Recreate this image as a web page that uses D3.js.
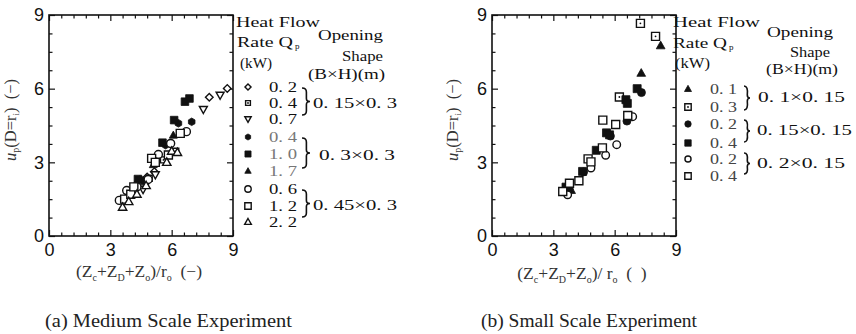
<!DOCTYPE html>
<html><head><meta charset="utf-8">
<script src="https://cdn.jsdelivr.net/npm/d3@7"></script>
<style>body{margin:0;background:#fff} svg{display:block}</style>
</head><body><svg id="c" width="856" height="334"></svg>
<script>
// ---------- data ----------
const tickValues = [0, 3, 6, 9];
const tickLabels = ["0", "3", "6", "9"];

// (a) Medium scale experiment: heat flow rate (kW) per series
const A_rates  = ["0. 2", "0. 4", "0. 7", "0. 4", "1. 0", "1. 7", "0. 6", "1. 2", "2. 2"];
const A_shapes = ["0. 15×0. 3", "0. 3×0. 3", "0. 45×0. 3"];
const A_s1 = [[4.80,2.40],[5.15,2.62],[7.84,5.65],[8.72,6.01]];              // ◇ 0.2
const A_s2 = [[4.55,2.15],[4.90,2.35],[5.60,3.10],[6.20,3.45]];              // □ small 0.4
const A_s3 = [[4.60,1.90],[5.20,2.50],[7.55,5.16],[8.37,5.74]];              // ▽ 0.7
const A_s4 = [[4.45,2.30],[5.70,3.70],[6.33,4.59],[6.98,4.65]];              // ● 0.4
const A_s5 = [[4.35,2.32],[4.70,2.25],[5.55,3.80],[6.12,4.72],[6.65,5.47],[6.87,5.60]]; // ■ 1.0
const A_s6 = [[4.30,2.21],[5.10,2.90],[6.08,4.10]];                          // ▲ 1.7
const A_s7 = [[3.44,1.45],[3.80,1.85],[4.30,2.00],[4.85,2.30],[5.35,3.32],[5.95,3.77],[6.72,4.25]]; // ○ 0.6
const A_s8 = [[3.70,1.50],[4.00,1.70],[4.15,2.00],[5.02,3.16],[5.20,3.00],[5.84,3.30],[6.42,4.18]]; // □ 1.2
const A_s9 = [[3.60,1.17],[3.90,1.40],[4.30,1.70],[4.75,2.05],[5.76,3.00],[6.00,3.45],[6.28,3.40]]; // △ 2.2
const A_series = [A_s1, A_s2, A_s3, A_s4, A_s5, A_s6, A_s7, A_s8, A_s9];

// (b) Small scale experiment
const B_rates  = ["0. 1", "0. 3", "0. 2", "0. 4", "0. 2", "0. 4"];
const B_shapes = ["0. 1×0. 15", "0. 15×0. 15", "0. 2×0. 15"];
const B_s1 = [[3.66,1.98],[3.87,1.86],[7.30,6.63],[8.25,7.75]];              // ▲ 0.1
const B_s2 = [[6.23,5.66],[7.26,8.66],[8.00,8.13]];                          // ⊡ 0.3
const B_s3 = [[3.78,1.90],[4.48,2.61],[5.79,4.07],[6.60,4.68],[7.31,5.84]];  // ● 0.2
const B_s4 = [[3.62,1.99],[4.43,2.63],[5.10,3.49],[5.60,4.20],[5.75,4.12],[6.55,5.55],[6.62,5.40],[7.10,6.00]]; // ■ 0.4
const B_s5 = [[3.70,1.68],[4.84,2.77],[5.56,3.29],[6.10,3.72],[6.88,4.86]];  // ○ 0.2
const B_s6 = [[3.46,1.81],[3.79,2.15],[4.25,2.25],[4.70,3.14],[4.84,3.02],[5.40,3.59],[5.42,4.72],[6.05,4.54],[6.64,4.91]]; // □ 0.4
const B_series = [B_s1, B_s2, B_s3, B_s4, B_s5, B_s6];

const captions = ["(a) Medium Scale Experiment", "(b) Small Scale Experiment"];

// ---------- styles ----------
const A_style = [
  {t:"dia", f:0, r:3.3}, {t:"sqd", f:0, r:3.0}, {t:"tdn", f:0, r:4.2},
  {t:"hex", f:1, r:3.8}, {t:"sq", f:1, r:3.8}, {t:"tup", f:1, r:4.2},
  {t:"cir", f:0, r:4.0}, {t:"sq", f:0, r:4.0}, {t:"tup", f:0, r:4.4}
];
const B_style = [
  {t:"tup", f:1, r:4.6}, {t:"sqd", f:0, r:4.0}, {t:"cir", f:1, r:4.0},
  {t:"sq", f:1, r:4.0}, {t:"cir", f:0, r:3.8}, {t:"sq", f:0, r:4.0}
];

function shapePath(t, r) {
  switch (t) {
    case "cir": return `M${r},0A${r},${r} 0 1,1 ${-r},0A${r},${r} 0 1,1 ${r},0Z`;
    case "sq": case "sqd": return `M${-r},${-r}H${r}V${r}H${-r}Z`;
    case "dia": return `M0,${-r*1.15}L${r*1.15},0L0,${r*1.15}L${-r*1.15},0Z`;
    case "tup": return `M0,${-r}L${r*0.95},${r*0.68}L${-r*0.95},${r*0.68}Z`;
    case "tdn": return `M0,${r}L${r*0.95},${-r*0.68}L${-r*0.95},${-r*0.68}Z`;
    case "hex": {
      let p = [];
      for (let i = 0; i < 6; i++) { const a = Math.PI/6 + i*Math.PI/3; p.push([r*Math.cos(a), r*Math.sin(a)]); }
      return "M" + p.map(q => q[0].toFixed(2)+","+q[1].toFixed(2)).join("L") + "Z";
    }
  }
}
function drawMark(g, st, scale) {
  const r = st.r * (scale || 1);
  g.append("path").attr("d", shapePath(st.t, r))
    .attr("fill", st.f ? "#111" : "#fff").attr("stroke", "#111").attr("stroke-width", st.f ? 0.8 : 1.4);
  if (st.t === "sqd") g.append("circle").attr("r", 0.9).attr("fill", "#111");
}

// ---------- drawing ----------
const svg = d3.select("#c");
svg.append("rect").attr("width", 856).attr("height", 334).attr("fill", "#fff");

const SERIF = "'Liberation Serif', 'DejaVu Serif', serif";
const SANS = "'Liberation Sans', Arial, sans-serif";

function panel(cfg) {
  const x = d3.scaleLinear().domain([0, 9]).range([cfg.L, cfg.R]);
  const y = d3.scaleLinear().domain([0, 9]).range([cfg.B, cfg.T]);
  const xMinor = d3.range(0, 9.001, 0.6).filter(v => !tickValues.includes(Math.round(v*100)/100));
  const yMinor = d3.range(0, 9.001, 0.75).filter(v => !tickValues.includes(v));
  const fmt = (d) => tickLabels[tickValues.indexOf(d)];
  const g = svg.append("g");

  const style = (a) => {
    a.select(".domain").remove();
    a.selectAll("line").attr("stroke", "#111").attr("stroke-width", 1.2);
    a.selectAll("text").attr("font-family", SANS).attr("font-size", 18).attr("fill", "#111");
  };
  g.append("g").attr("transform", `translate(0,${cfg.B})`)
    .call(d3.axisBottom(x).tickValues(tickValues).tickFormat(fmt).tickSizeInner(-6).tickSizeOuter(0).tickPadding(7)).call(style);
  g.append("g").attr("transform", `translate(${cfg.L},0)`)
    .call(d3.axisLeft(y).tickValues(tickValues).tickFormat(fmt).tickSizeInner(-6).tickSizeOuter(0).tickPadding(5)).call(style);
  g.append("g").attr("transform", `translate(0,${cfg.T})`)
    .call(d3.axisTop(x).tickValues(tickValues).tickFormat("").tickSizeInner(-6).tickSizeOuter(0)).call(style);
  g.append("g").attr("transform", `translate(${cfg.R},0)`)
    .call(d3.axisRight(y).tickValues(tickValues).tickFormat("").tickSizeInner(-6).tickSizeOuter(0)).call(style);
  g.append("g").attr("transform", `translate(0,${cfg.B})`)
    .call(d3.axisBottom(x).tickValues(xMinor).tickFormat("").tickSizeInner(-3.5).tickSizeOuter(0)).call(style);
  g.append("g").attr("transform", `translate(0,${cfg.T})`)
    .call(d3.axisTop(x).tickValues(xMinor).tickFormat("").tickSizeInner(-3.5).tickSizeOuter(0)).call(style);
  g.append("g").attr("transform", `translate(${cfg.L},0)`)
    .call(d3.axisLeft(y).tickValues(yMinor).tickFormat("").tickSizeInner(-3.5).tickSizeOuter(0)).call(style);
  g.append("g").attr("transform", `translate(${cfg.R},0)`)
    .call(d3.axisRight(y).tickValues(yMinor).tickFormat("").tickSizeInner(-3.5).tickSizeOuter(0)).call(style);

  g.append("rect").attr("x", cfg.L).attr("y", cfg.T).attr("width", cfg.R - cfg.L).attr("height", cfg.B - cfg.T)
    .attr("fill", "none").attr("stroke", "#111").attr("stroke-width", 1.6);

  cfg.series.forEach((pts, i) => {
    pts.forEach(p => {
      const m = g.append("g").attr("transform", `translate(${x(p[0])},${y(p[1])})`);
      drawMark(m, cfg.styles[i], 1);
    });
  });

  const yl = g.append("text").attr("transform", `translate(${cfg.yLabX},${cfg.yLabY}) rotate(-90)`)
    .attr("text-anchor", "middle").attr("font-family", SERIF).attr("font-size", 16.5).attr("fill", "#333");
  yl.append("tspan").attr("font-style", "italic").text("u");
  yl.append("tspan").attr("font-size", 10).attr("dy", 3).text("p");
  yl.append("tspan").attr("dy", -3).text("(D=r");
  yl.append("tspan").attr("font-size", 9).attr("dy", 3).text("i");
  yl.append("tspan").attr("dy", -3).text(")\u00a0\u00a0(\u2212)");

  const xl = g.append("text").attr("x", cfg.xLabX).attr("y", cfg.xLabY)
    .attr("text-anchor", "middle").attr("font-family", SERIF).attr("font-size", 17.5).attr("fill", "#333");
  const parts = [["(Z",0],["c",1],["+Z",0],["D",1],["+Z",0],["o",1],[")/" + (cfg.xLabGap ? "\u00a0" : "") + "r",0],["o",1],["\u00a0\u00a0" + cfg.xLabEnd,0]];
  let sub = false;
  parts.forEach(([s, isSub]) => {
    const t = xl.append("tspan").text(s);
    if (isSub && !sub) { t.attr("font-size", 10).attr("dy", 4); sub = true; }
    else if (!isSub && sub) { t.attr("dy", -4); sub = false; }
    else if (isSub) t.attr("font-size", 10);
  });

  g.append("text").attr("x", cfg.capX).attr("y", 327).attr("font-family", SERIF).attr("font-size", 19)
    .attr("fill", "#222").attr("textLength", cfg.capW).attr("lengthAdjust", "spacingAndGlyphs").text(cfg.caption);
}

function ltext(x, y, w, s, opts) {
  opts = opts || {};
  const t = svg.append("text").attr("x", x).attr("y", y).attr("dy", "0.35em")
    .attr("font-family", SERIF).attr("font-size", opts.size || 15.5).attr("fill", opts.fill || "#111").text(s);
  if (w) t.attr("textLength", w).attr("lengthAdjust", "spacingAndGlyphs");
  return t;
}
function brace(x0, y0, y1, w, round) {
  const ym = (y0 + y1) / 2, x1 = x0 + w * 0.55, x2 = x0 + w;
  let d;
  if (round) d = `M${x0},${y0}Q${x1+1},${y0} ${x1},${ym-3}Q${x1},${ym} ${x2},${ym}Q${x1},${ym} ${x1},${ym+3}Q${x1+1},${y1} ${x0},${y1}`;
  else d = `M${x0},${y0}Q${x1},${y0} ${x1},${y0+4}L${x1},${ym-3}Q${x1},${ym} ${x2},${ym}Q${x1},${ym} ${x1},${ym+3}L${x1},${y1-4}Q${x1},${y1} ${x0},${y1}`;
  svg.append("path").attr("d", d).attr("fill", "none").attr("stroke", "#111").attr("stroke-width", 1.6);
}

panel({L:49, R:233, T:15, B:236, series:A_series, styles:A_style,
  yLabX:16, yLabY:120, xLabX:139, xLabY:277, xLabEnd:"(\u2212)", xLabGap:false,
  caption:captions[0], capX:45, capW:247});
panel({L:492, R:676, T:15, B:236, series:B_series, styles:B_style,
  yLabX:458, yLabY:120, xLabX:582, xLabY:279, xLabEnd:"(\u00a0\u00a0)", xLabGap:true,
  caption:captions[1], capX:481, capW:216});

// ---------- legend (a) ----------
ltext(236, 22, 84, "Heat Flow");
ltext(237, 42, 56, "Rate Q");
ltext(295, 46, 0, "p", {size: 9});
ltext(240, 63, 32, "(kW)");
ltext(318, 35, 65, "Opening");
ltext(342, 56, 41, "Shape");
ltext(308, 74, 77, "(B×H)(m)");
const A_rowY = [87, 103, 119, 137, 154, 171, 189, 206, 222];
A_rates.forEach((s, i) => {
  const m = svg.append("g").attr("transform", `translate(248,${A_rowY[i]})`);
  drawMark(m, A_style[i], 0.8);
  ltext(269, A_rowY[i], 28, s, {fill: (i >= 3 && i <= 5) ? "#777" : "#111"});
});
brace(302, 88, 115, 8, false);
brace(302, 138, 168, 8, false);
brace(302, 190, 217, 8, false);
ltext(313, 103, 84, A_shapes[0]);
ltext(319, 155, 76, A_shapes[1]);
ltext(313, 205, 84, A_shapes[2]);

// ---------- legend (b) ----------
ltext(673, 22, 87, "Heat Flow");
ltext(673, 43, 54, "Rate Q");
ltext(729, 47, 0, "p", {size: 9});
ltext(675, 63, 35, "(kW)");
ltext(767, 32, 66, "Opening");
ltext(790, 52, 40, "Shape");
ltext(766, 69, 72, "(B×H)(m)");
const B_rowY = [89, 107, 124, 143, 159, 176];
B_rates.forEach((s, i) => {
  const m = svg.append("g").attr("transform", `translate(688,${B_rowY[i]})`);
  drawMark(m, B_style[i], 0.8);
  ltext(710, B_rowY[i], 27, s, {fill: "#444"});
});
brace(744, 86, 110, 6, true);
brace(744, 120, 142, 6, true);
brace(744, 153, 174, 6, true);
ltext(758, 97, 87, B_shapes[0]);
ltext(757, 130, 95, B_shapes[1]);
ltext(757, 163, 88, B_shapes[2]);
</script></body></html>
